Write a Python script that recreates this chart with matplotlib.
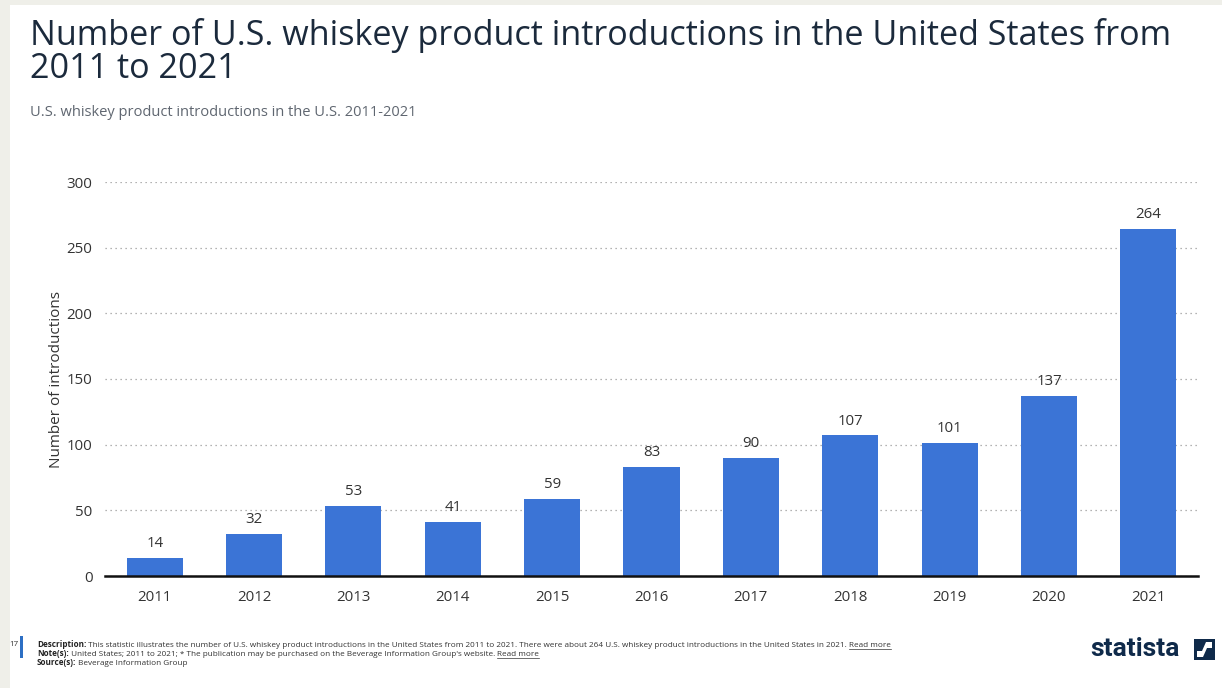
import matplotlib
matplotlib.use("Agg")
import matplotlib.pyplot as plt
from matplotlib.patches import Rectangle, Polygon
from matplotlib.lines import Line2D

years = ["2011", "2012", "2013", "2014", "2015", "2016", "2017", "2018", "2019", "2020", "2021"]
introductions = [14, 32, 53, 41, 59, 83, 90, 107, 101, 137, 264]
y_ticks = [0, 50, 100, 150, 200, 250, 300]

title = "Number of U.S. whiskey product introductions in the United States from\n2011 to 2021"
subtitle = "U.S. whiskey product introductions in the U.S. 2011-2021"
y_label = "Number of introductions"

plt.rcParams["font.family"] = ["Open Sans", "DejaVu Sans"]

W, H = 1222, 688
fig = plt.figure(figsize=(W / 100, H / 100), dpi=100)
fig.patch.set_facecolor("#efefe9")

# white page area
fig.patches.append(Rectangle((10 / W, 0), 1 - 10 / W, 1 - 5 / H, transform=fig.transFigure,
                             facecolor="white", edgecolor="none", zorder=-10))

fig.text(30 / W, 1 - 18 / H, title, fontsize=24.6, color="#1b2a3c", va="top",
         ha="left", linespacing=0.98)
fig.text(30 / W, 1 - 113 / H, subtitle, fontsize=10.5, color="#5f6670", va="center", ha="left")

ax = fig.add_axes([105 / W, 1 - 576 / H, (1198 - 105) / W, (576 - 182) / H])
ax.set_facecolor("none")
x = list(range(len(years)))
bars = ax.bar(x, introductions, width=0.565, color="#3b74d6", zorder=3)
ax.set_xlim(-0.5, len(years) - 0.5)
ax.set_ylim(0, 300)
ax.set_yticks(y_ticks)
ax.set_xticks(x)
ax.set_xticklabels(years)
ax.yaxis.grid(True, linestyle=(0, (1, 3)), color="#9a9a9a", linewidth=0.9, zorder=0)
ax.xaxis.grid(False)
for s in ["top", "right", "left"]:
    ax.spines[s].set_visible(False)
ax.spines["bottom"].set_color("#111111")
ax.spines["bottom"].set_linewidth(1.8)
ax.spines["bottom"].set_zorder(4)
ax.tick_params(axis="both", length=0, labelsize=10.8, labelcolor="#333333")
ax.tick_params(axis="x", pad=10)
ax.tick_params(axis="y", pad=9)
ax.set_ylabel(y_label, fontsize=11, color="#333333", labelpad=2)

for xi, v in zip(x, introductions):
    ax.annotate(str(v), (xi, v), xytext=(0, 5), textcoords="offset points",
                ha="center", va="bottom", fontsize=10.8, color="#333333", zorder=5)

# footer
fig.text(9 / W, 1 - 645 / H, "17", fontsize=5.8, color="#333333", va="center", ha="left")
fig.patches.append(Rectangle((20 / W, 1 - 658 / H), 2.5 / W, 22 / H, transform=fig.transFigure,
                             facecolor="#2d6fc4", edgecolor="none"))
foot_y = [647, 656, 665]
foot_bold = ["Description:", "Note(s):", "Source(s):"]
foot_text = [
    " This statistic illustrates the number of U.S. whiskey product introductions in the United States from 2011 to 2021. There were about 264 U.S. whiskey product introductions in the United States in 2021. ",
    " United States; 2011 to 2021; * The publication may be purchased on the Beverage Information Group's website. ",
    " Beverage Information Group",
]
foot_link = ["Read more", "Read more", ""]
renderer = fig.canvas.get_renderer()
for yy, b, t, lk in zip(foot_y, foot_bold, foot_text, foot_link):
    tb = fig.text(37 / W, 1 - yy / H, b, fontsize=5.9, fontweight="bold", color="#222222",
                  va="baseline", ha="left")
    bb = tb.get_window_extent(renderer=renderer)
    tn = fig.text(bb.x1 / W, 1 - yy / H, t, fontsize=5.9, color="#333333", va="baseline", ha="left")
    if lk:
        bn = tn.get_window_extent(renderer=renderer)
        tl = fig.text(bn.x1 / W, 1 - yy / H, lk, fontsize=5.9, color="#333333",
                      va="baseline", ha="left")
        bl = tl.get_window_extent(renderer=renderer)
        fig.lines.append(Line2D([bl.x0 / W, bl.x1 / W], [(H - yy - 1.5) / H] * 2,
                                transform=fig.transFigure, color="#333333", linewidth=0.5))

# statista wordmark
fig.text(1090 / W, 1 - 649 / H, "statista", fontsize=19, fontweight="bold", color="#0f2a4a",
         va="center", ha="left", family=["Roboto", "DejaVu Sans"])
x0, y0, s = 1194, 660, 21
fig.patches.append(Rectangle((x0 / W, 1 - y0 / H), s / W, s / H, transform=fig.transFigure,
                             facecolor="#0f2a4a", edgecolor="none"))
wave = [(x0 + 3, y0 - 3), (x0 + 9, y0 - 3), (x0 + 13, y0 - 12), (x0 + 18, y0 - 12),
        (x0 + 18, y0 - 18), (x0 + 12, y0 - 18), (x0 + 8, y0 - 9), (x0 + 3, y0 - 9)]
fig.patches.append(Polygon([(px / W, 1 - py / H) for px, py in wave], closed=True,
                           transform=fig.transFigure, facecolor="white", edgecolor="none"))

fig.savefig("out.png", dpi=100, facecolor=fig.get_facecolor())
